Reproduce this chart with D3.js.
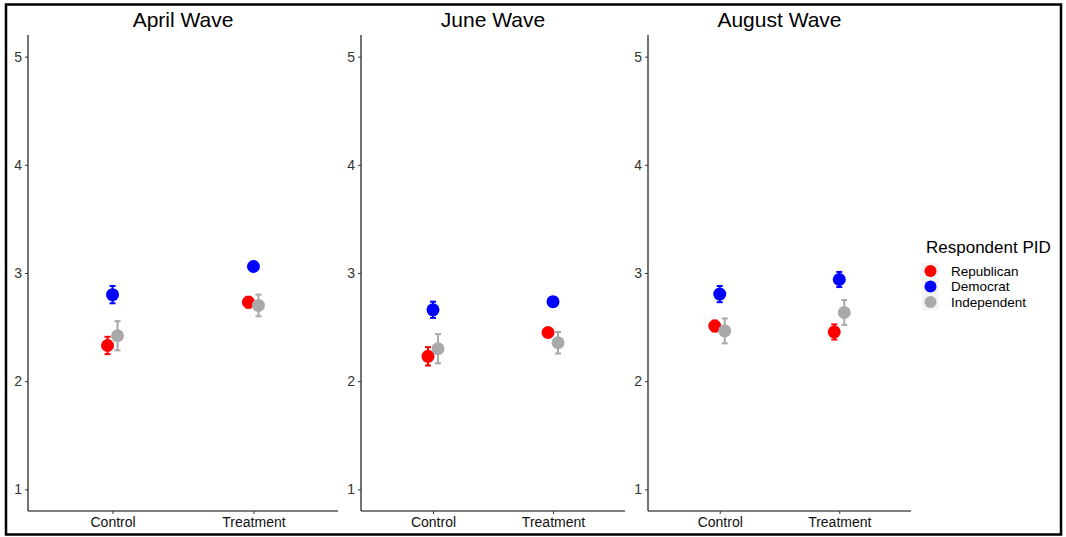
<!DOCTYPE html>
<html><head><meta charset="utf-8">
<script src="https://cdn.jsdelivr.net/npm/d3@7"></script>
<style>body{margin:0;background:#fff}svg{display:block}text{font-family:"Liberation Sans",Arial,sans-serif}</style>
</head><body><svg id="c" width="1066" height="537"></svg>
<script>
const waves = ["April Wave","June Wave","August Wave"];
const conditions = ["Control","Treatment"];
const parties = ["Republican","Democrat","Independent"];
const partyColors = ["#FF0000","#0000FF","#A9A9A9"];
const yTicks = [1,2,3,4,5];
// means[wave][condition][party]
const means = [
  [[2.33,2.80,2.42],[2.73,3.06,2.70]],
  [[2.23,2.66,2.30],[2.45,2.735,2.355]],
  [[2.51,2.805,2.465],[2.455,2.94,2.635]]
];
const errs = [
  [[0.08,0.08,0.135],[0.05,0.04,0.10]],
  [[0.085,0.075,0.135],[0.04,0.04,0.10]],
  [[0.05,0.075,0.115],[0.07,0.07,0.115]]
];
const panels = [[28,338],[361,625],[648,911]];
const yTop = 35, yBot = 511;

const svg = d3.select("#c");
svg.append("rect").attr("x",6).attr("y",4.5).attr("width",1055).attr("height",530)
  .attr("fill","none").attr("stroke","#000").attr("stroke-width",2.5);

const y = d3.scaleLinear().domain([0.8,5.2]).range([yBot,yTop]);
const dodge = d3.scalePoint().domain(parties).range([-5,5]);

waves.forEach((w,wi)=>{
  const [x0,x1] = panels[wi];
  const x = d3.scalePoint().domain(conditions).range([x0,x1]).padding(0.6);
  const g = svg.append("g");
  // y axis
  const ya = g.append("g").attr("transform",`translate(${x0},0)`)
    .call(d3.axisLeft(y).tickValues(yTicks).tickSize(3).tickPadding(3).tickFormat(d3.format("d")));
  ya.select(".domain").attr("d",`M0,${yTop}V${yBot}`).attr("stroke","#000").attr("stroke-width",1.1);
  ya.selectAll(".tick line").attr("stroke","#333");
  ya.selectAll(".tick text").attr("fill","#333").style("font-size","14px");
  // x axis
  const xa = g.append("g").attr("transform",`translate(0,${yBot})`)
    .call(d3.axisBottom(x).tickSize(3).tickPadding(3));
  xa.select(".domain").attr("d",`M${x0},0H${x1}`).attr("stroke","#000").attr("stroke-width",1.1);
  xa.selectAll(".tick line").attr("stroke","#333");
  xa.selectAll(".tick text").attr("fill","#111").style("font-size","14px");
  // title
  g.append("text").attr("x",(x0+x1)/2).attr("y",27).attr("text-anchor","middle")
    .style("font-size","21px").attr("fill","#000").text(w);
  // points
  conditions.forEach((c,ci)=>{
    parties.forEach((p,pi)=>{
      const cx = x(c)+dodge(p);
      const m = means[wi][ci][pi], e = errs[wi][ci][pi];
      const col = partyColors[pi];
      const ey0 = y(m-e), ey1 = y(m+e);
      g.append("line").attr("x1",cx).attr("x2",cx).attr("y1",ey0).attr("y2",ey1).attr("stroke",col).attr("stroke-width",2);
      [ey0,ey1].forEach(yy=>g.append("line").attr("x1",cx-3).attr("x2",cx+3).attr("y1",yy).attr("y2",yy).attr("stroke",col).attr("stroke-width",2));
      g.append("circle").attr("cx",cx).attr("cy",y(m)).attr("r",6.5).attr("fill",col);
    });
  });
});

// legend
const lg = svg.append("g");
lg.append("text").attr("x",926).attr("y",253).style("font-size","17px").attr("fill","#000").text("Respondent PID");
lg.append("rect").attr("x",922).attr("y",263).attr("width",17).attr("height",47).attr("fill","#f4f4f4");
parties.forEach((p,i)=>{
  const yy = 271 + i*15.5;
  lg.append("circle").attr("cx",930.5).attr("cy",yy).attr("r",6).attr("fill",partyColors[i]);
  lg.append("text").attr("x",951).attr("y",yy+4.5).style("font-size","13.5px").attr("fill","#000").text(p);
});
</script></body></html>
